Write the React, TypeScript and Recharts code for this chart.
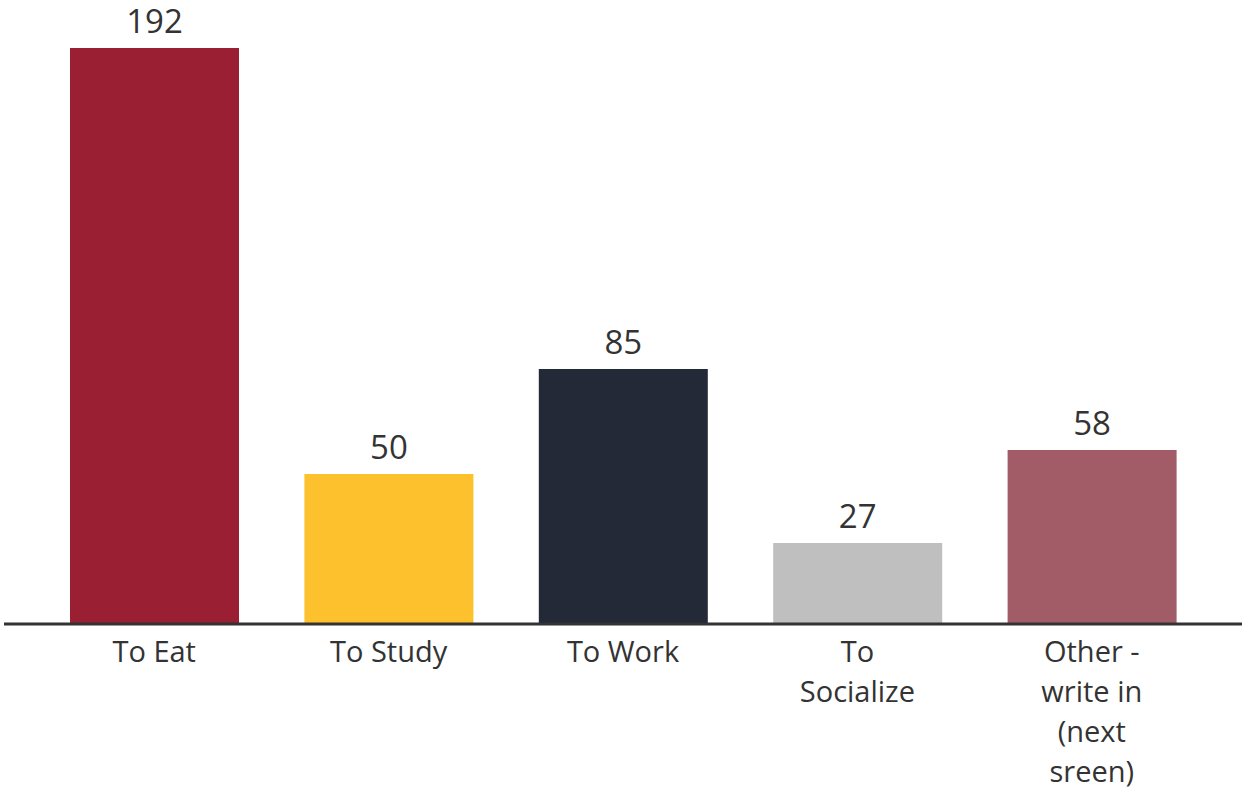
import { BarChart, Bar, XAxis, YAxis, Cell, LabelList } from 'recharts';

const categories = ['To Eat', 'To Study', 'To Work', 'To Socialize', 'Other - write in (next sreen)'];
const tickLines = [['To Eat'], ['To Study'], ['To Work'], ['To', 'Socialize'], ['Other -', 'write in', '(next', 'sreen)']];
const counts = [192, 50, 85, 27, 58];
const colors = ['#9b1f33', '#fcc12d', '#232937', '#bfbfbf', '#a25c67'];

const data = categories.map((name, i) => ({ name, value: counts[i] }));

const FONT = '"Open Sans", Lato, sans-serif';

function Tick(props: any) {
  const { x, y, payload } = props;
  const lines = tickLines[payload.index] || [payload.value];
  return (
    <g transform={`translate(${x},${y})`}>
      <text textAnchor="middle" fill="#333" fontSize={29} fontFamily={FONT}>
        {lines.map((l: string, i: number) => (
          <tspan key={i} x={0} dy={i === 0 ? 30 : 40}>
            {l}
          </tspan>
        ))}
      </text>
    </g>
  );
}

export default function App() {
  return (
    <div style={{ position: 'absolute', left: 0, top: 0, width: 1242, height: 790, background: '#fff' }}>
      <BarChart
        width={1242}
        height={790}
        data={data}
        margin={{ top: 24, right: 0, bottom: 0, left: 4 }}
        barSize={169}
      >
        <XAxis
          dataKey="name"
          interval={0}
          tickLine={false}
          axisLine={{ stroke: '#333', strokeWidth: 3 }}
          tick={<Tick />}
          padding={{ left: 33, right: 33 }}
          height={166}
        />
        <YAxis hide domain={[0, 200]} />
        <Bar dataKey="value" isAnimationActive={false}>
          {data.map((d, i) => (
            <Cell key={d.name} fill={colors[i]} />
          ))}
          <LabelList
            dataKey="value"
            position="top"
            offset={15}
            fill="#333"
            fontSize={33}
            fontFamily={FONT}
          />
        </Bar>
      </BarChart>
    </div>
  );
}
